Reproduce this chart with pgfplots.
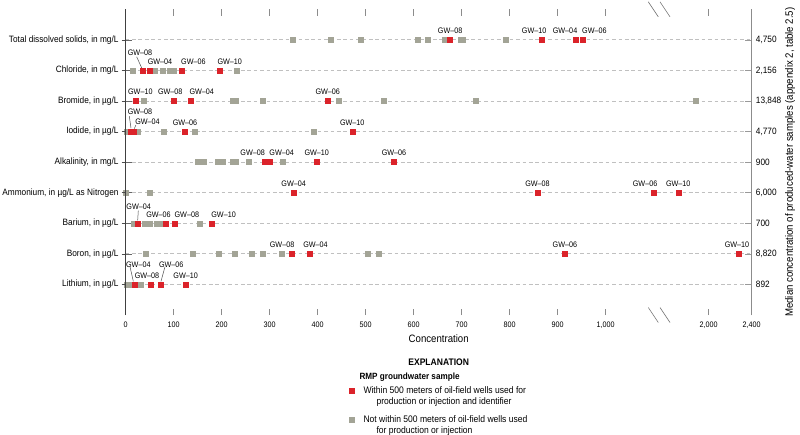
\documentclass[border=0pt]{standalone}
\usepackage{fontspec}
\setmainfont{Liberation Sans}[FakeStretch=0.9]
\usepackage{pgfplots}
\usepackage{pgfplotstable}
\pgfplotsset{compat=1.18}

\definecolor{wellred}{RGB}{219,35,42}
\definecolor{wellgray}{RGB}{163,164,150}
\definecolor{gridgray}{RGB}{192,192,192}

% rows: 9 = total dissolved solids ... 1 = lithium
\pgfplotstableread{
c r
347 9
428 9
490 9
609 9
630 9
665 9
697 9
703 9
792 9
14.6 8
61 8
78 8
91 8
99 8
231 8
37 7
223 7
230 7
285 7
444 7
538 7
729 7
1880 7
2 6
24 6
80 6
144 6
392 6
149 5
163 5
192 5
203 5
223 5
229 5
256 5
328 5
0 4
51 4
16 3
40 3
49 3
65 3
71 3
155 3
42 2
140 2
193 2
228 2
263 2
285 2
324 2
505 2
528 2
3 1
10 1
31 1
}\grays

\pgfplotstableread{
c r lab lx ly
676 9 GW--08 0 9
867 9 GW--10 -7.7 9
937 9 GW--04 -10.4 9
953 9 GW--06 11.3 9
35.4 8 GW--08 -2.7 18
50.6 8 GW--04 10 9
116 8 GW--06 12 9
196 8 GW--10 10 9
21.5 7 GW--10 4.3 9
99 7 GW--08 -3 9
135 7 GW--04 11.3 9
421 7 GW--06 0 9
11 6 GW--08 9 20
17 6 GW--04 13.6 10
123.5 6 GW--06 0 9
472 6 GW--10 0 9
290 5 GW--08 -12.2 9
299 5 GW--04 12.4 9
398 5 GW--10 0 9
559 5 GW--06 0 9
350 4 GW--04 0 9
858 4 GW--08 0 9
1100 4 GW--06 -8.6 9
1717 4 GW--10 0 9
25 3 GW--04 1 17
83 3 GW--06 -7 8.5
103 3 GW--08 11.7 8.5
180 3 GW--10 11.5 8.5
346 2 GW--08 -9.7 9
383 2 GW--04 6 9
915 2 GW--06 0 9
2282 2 GW--10 -2 9
18 1 GW--04 4 20
52 1 GW--08 -3.7 8.5
72 1 GW--06 11 20
125 1 GW--10 0 9
}\reds

% broken axis: 0-1000 linear, then 2000-2400 compressed
\newcommand\bx{\thisrow{c}>1500 ? 1214.6+(\thisrow{c}-2000)*0.224 : \thisrow{c}}

\pgfplotsset{
  base/.style={
    width=626pt, height=305.7pt, scale only axis,
    at={(0,0)}, anchor=south west,
    xmin=0, xmax=1304.2, ymin=0, ymax=10,
    axis line style={draw=none},
    ytick={1,...,9},
    clip=false,
  },
}
\tikzset{leader/.style={black!70, line width=0.5pt}}

\begin{document}
\begin{tikzpicture}
\begin{axis}[base,
  xtick={0,100,200,300,400,500,600,700,800,900,1000,1214.6,1304.2},
  xticklabels={0,100,200,300,400,500,600,700,800,900,{1,000},{2,000},{2,400}},
  xticklabel style={font=\fontsize{8}{9}\selectfont, yshift=-3pt},
  yticklabels={{Lithium, in µg/L},{Boron, in µg/L},{Barium, in µg/L},{Ammonium, in µg/L as Nitrogen},{Alkalinity, in mg/L},{Iodide, in µg/L},{Bromide, in µg/L},{Chloride, in mg/L},{Total dissolved solids, in mg/L}},
  yticklabel style={font=\fontsize{9.2}{11}\selectfont, inner xsep=0pt, xshift=-7pt},
  ytick pos=left,
  tick align=inside,
  major tick length=6.5pt,
  xtick style={black!45, line width=0.7pt},
  ytick style={black!60, line width=0.7pt},
  ymajorgrids,
  grid style={dash pattern=on 3.7pt off 2.7pt, gridgray, line width=1pt},
  xlabel={Concentration},
  xlabel style={font=\fontsize{10.7}{12}\selectfont, at={(axis description cs:0.5,-0.0785)}, anchor=center},
  legend style={at={(axis description cs:0.3564,-0.2250)}, anchor=north west, draw=none, fill=none,
    inner sep=0pt, row sep=15.5pt, column sep=7.5pt,
    cells={anchor=base west, inner sep=0pt},
    font=\fontsize{9.5}{11}\selectfont},
]
\addplot[only marks, mark=square*, mark size=2.5pt, color=wellgray, forget plot]
  table[x expr=\bx, y=r] {\grays};
\addplot[only marks, mark=square*, mark size=2.5pt, color=wellred, forget plot,
  nodes near coords, point meta=explicit symbolic,
  visualization depends on={\thisrow{lx}\as\lx},
  visualization depends on={\thisrow{ly}\as\ly},
  nodes near coords style={font=\fontsize{8}{9}\selectfont, color=black, inner sep=0pt, anchor=center, xshift=\lx pt, yshift=\ly pt}]
  table[x expr=\bx, y=r, meta=lab] {\reds};

\draw[leader] ([xshift=-6pt,yshift=13.6pt]axis cs:35.4,8) -- ([xshift=-1pt,yshift=2.5pt]axis cs:35.4,8);
\draw[leader] ([xshift=-1.7pt,yshift=15.5pt]axis cs:11,6) -- ([yshift=3.5pt]axis cs:11,6);
\draw[leader] ([xshift=2pt,yshift=6.5pt]axis cs:17,6) -- ([xshift=0.5pt,yshift=3pt]axis cs:17,6);
\draw[leader] ([xshift=0.6pt,yshift=12.7pt]axis cs:25,3) -- ([yshift=3pt]axis cs:25,3);
\draw[leader] ([xshift=-4.3pt,yshift=17.6pt]axis cs:18,1) -- ([xshift=-1pt,yshift=3pt]axis cs:18,1);
\draw[leader] ([xshift=4.7pt,yshift=17.6pt]axis cs:72,1) -- ([xshift=0.7pt,yshift=3pt]axis cs:72,1);

\addlegendimage{legend image code/.code={\draw[draw=none, mark=square*, mark size=2.5pt, mark options={fill=wellred, draw=wellred}] plot coordinates {(0pt,3pt)};}}
\addlegendentry{\begin{tabular}[t]{@{}l@{}}Within 500 meters of oil-field wells used for\\\hspace{13pt}production or injection and identifier\end{tabular}}
\addlegendimage{legend image code/.code={\draw[draw=none, mark=square*, mark size=2.5pt, mark options={fill=wellgray, draw=wellgray}] plot coordinates {(0pt,3pt)};}}
\addlegendentry{\begin{tabular}[t]{@{}l@{}}Not within 500 meters of oil-field wells used\\\hspace{13pt}for production or injection\end{tabular}}

\node[font=\bfseries\fontsize{9.5}{11}\selectfont, anchor=base] at (axis description cs:0.5,-0.1640) {EXPLANATION};
\node[font=\bfseries\fontsize{9.05}{11}\selectfont, anchor=base west] at (axis description cs:0.3679,-0.2100) {RMP groundwater sample};
\end{axis}

% left outward tick stubs
\begin{axis}[base, xtick=\empty, ytick pos=left, tick align=outside,
  major tick length=4pt, yticklabels={}, ytick style={black!70, line width=0.7pt}]
\end{axis}

% right side: medians of produced-water samples
\begin{axis}[base, xtick=\empty,
  ytick pos=right, yticklabel pos=right,
  tick align=inside, major tick length=7pt,
  ytick style={black!40, line width=0.7pt},
  yticklabels={892,{8,820},700,{6,000},900,{4,770},{13,848},{2,156},{4,750}},
  yticklabel style={font=\fontsize{9.2}{11}\selectfont, inner xsep=0pt, xshift=4pt},
  ylabel={Median concentration of produced-water samples (appendix 2, table 2.5)},
  ylabel style={font=\fontsize{10.7}{12}\selectfont, at={(axis description cs:1.0612,0.5)}, anchor=center},
]
\draw[black!75, line width=0.8pt] (rel axis cs:0,0) -- (rel axis cs:0,1);
\draw[black!45, line width=0.8pt] (rel axis cs:1,0) -- (rel axis cs:1,1);
% axis break marks
\draw[black!55, line width=0.6pt] ([xshift=-5pt,yshift=7.5pt]rel axis cs:0.8428,1) -- ([xshift=5pt,yshift=-7.5pt]rel axis cs:0.8428,1);
\draw[black!55, line width=0.6pt] ([xshift=-5pt,yshift=7.5pt]rel axis cs:0.8615,1) -- ([xshift=5pt,yshift=-7.5pt]rel axis cs:0.8615,1);
\draw[black!55, line width=0.6pt] ([xshift=-5pt,yshift=7.5pt]rel axis cs:0.8428,0) -- ([xshift=5pt,yshift=-7.5pt]rel axis cs:0.8428,0);
\draw[black!55, line width=0.6pt] ([xshift=-5pt,yshift=7.5pt]rel axis cs:0.8615,0) -- ([xshift=5pt,yshift=-7.5pt]rel axis cs:0.8615,0);
\end{axis}

\pgfresetboundingbox
\useasboundingbox (-125.7pt,-119pt) rectangle (674.3pt,315pt);
\end{tikzpicture}
\end{document}
